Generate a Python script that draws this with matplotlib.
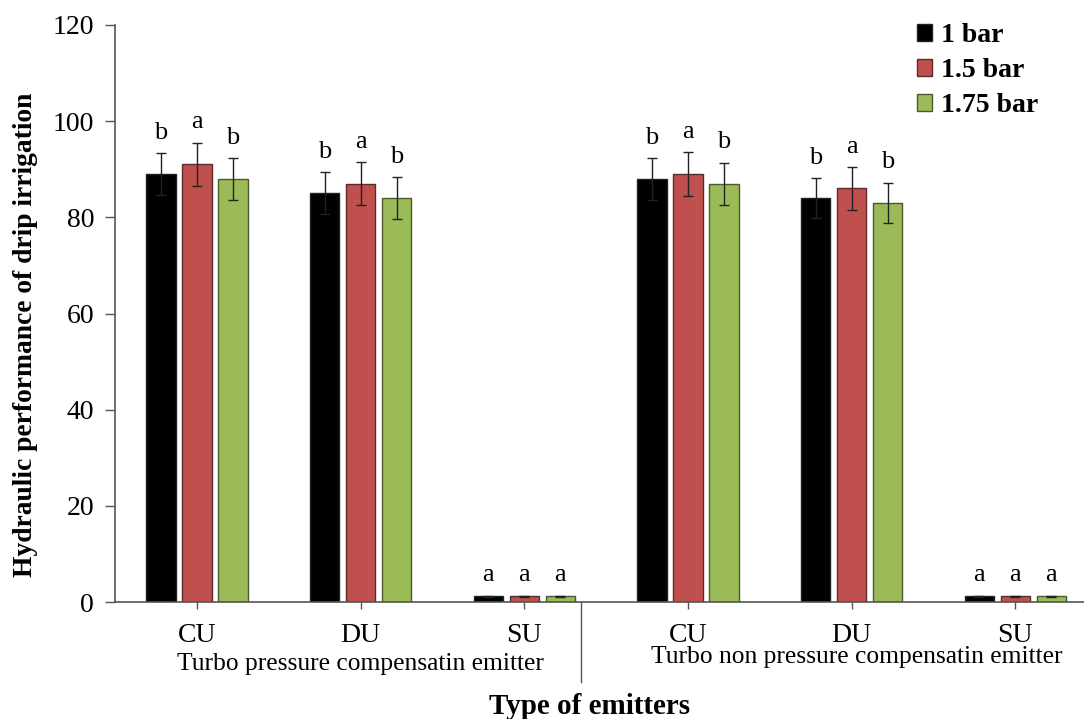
import matplotlib
matplotlib.use("Agg")
import matplotlib.pyplot as plt
import numpy as np

categories = ["CU", "DU", "SU", "CU", "DU", "SU"]
groups = ["Turbo pressure compensatin emitter", "Turbo non pressure compensatin emitter"]
series_names = ["1 bar", "1.5 bar", "1.75 bar"]
vals_1bar = [89, 85, 1.2, 88, 84, 1.2]
vals_15bar = [91, 87, 1.2, 89, 86, 1.2]
vals_175bar = [88, 84, 1.2, 87, 83, 1.2]
err_1bar = [4.3, 4.4, 0.1, 4.3, 4.1, 0.1]
err_15bar = [4.5, 4.5, 0.1, 4.5, 4.4, 0.1]
err_175bar = [4.3, 4.3, 0.1, 4.4, 4.2, 0.1]
letters_1bar = ["b", "b", "a", "b", "b", "a"]
letters_15bar = ["a", "a", "a", "a", "a", "a"]
letters_175bar = ["b", "b", "a", "b", "b", "a"]
yticks = [0, 20, 40, 60, 80, 100, 120]

colors = ["#000000", "#C0504D", "#9BBB59"]
edges = ["#222222", "#5a2a28", "#4a5a2a"]

plt.rcParams['font.family'] = ['Liberation Serif', 'DejaVu Serif']

fig = plt.figure(figsize=(10.84, 7.19), dpi=100)
ax = fig.add_axes([115/1084, (719-602)/719, 1 - 115/1084, (602-25)/719])

x = np.arange(len(categories))
offsets = [-0.22, 0.0, 0.22]
width = 0.178
all_vals = [vals_1bar, vals_15bar, vals_175bar]
all_errs = [err_1bar, err_15bar, err_175bar]
all_letters = [letters_1bar, letters_15bar, letters_175bar]

for i in range(3):
    ax.bar(x + offsets[i], all_vals[i], width, yerr=all_errs[i], color=colors[i],
           edgecolor=edges[i], linewidth=1.0, label=series_names[i],
           error_kw=dict(ecolor="#222222", elinewidth=1.0, capsize=3.5, capthick=1.0))
    for j in range(len(categories)):
        ax.text(x[j] + offsets[i], all_vals[i][j] + all_errs[i][j] + 3.0, all_letters[i][j],
                ha='center', va='baseline', fontsize=19)

ax.set_ylim(0, 120)
ax.set_xlim(-0.501, 5.42)
ax.set_yticks(yticks)
ax.set_yticklabels([str(t) for t in yticks], fontsize=20)
ax.set_xticks(x)
ax.set_xticklabels(categories, fontsize=20)
ax.tick_params(axis='y', direction='out', length=7, width=1, color='#555555', pad=8)
ax.tick_params(axis='x', direction='out', length=5, width=1, color='#555555', pad=10)
for s in ['top', 'right']:
    ax.spines[s].set_visible(False)
for s in ['left', 'bottom']:
    ax.spines[s].set_color('#555555')
    ax.spines[s].set_linewidth(1.2)

# separator between the two emitter groups
ax.plot([2.345, 2.345], [0, -16.6], color='#555555', linewidth=1.0, clip_on=False)

ax.text(1.0, -12.9, groups[0], ha='center', va='center', fontsize=18.4)
ax.text(4.03, -11.45, groups[1], ha='center', va='center', fontsize=18.4)

fig.text(590/1084, 1 - 706/719, "Type of emitters", ha='center', va='center',
         fontsize=21, fontweight='bold')
fig.text(26/1084, 1 - 335/719, "Hydraulic performance of drip irrigation", ha='center',
         va='center', rotation=90, fontsize=19.8, fontweight='bold')

leg = ax.legend(loc='upper left', bbox_to_anchor=(917/1084, 1 - 23/719),
                bbox_transform=fig.transFigure, frameon=False, borderpad=0, borderaxespad=0,
                prop={'size': 20, 'weight': 'bold'}, handlelength=0.55, handleheight=0.55,
                handletextpad=0.3, labelspacing=0.36)

fig.savefig("out.png", dpi=100)
